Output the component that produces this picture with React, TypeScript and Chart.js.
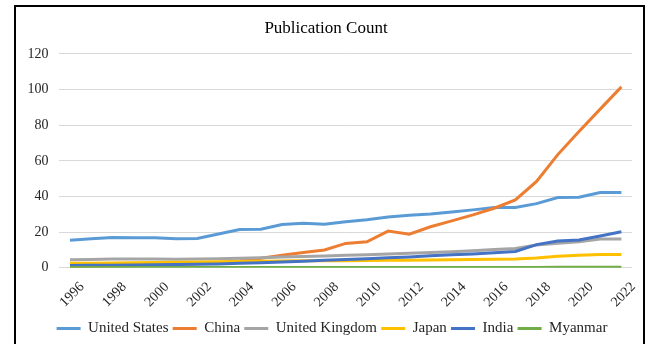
import React, { useEffect, useRef } from "react";
import { Chart, registerables } from "chart.js";

Chart.register(...registerables);

const years = [
  "1996", "1997", "1998", "1999", "2000", "2001", "2002", "2003", "2004",
  "2005", "2006", "2007", "2008", "2009", "2010", "2011", "2012", "2013",
  "2014", "2015", "2016", "2017", "2018", "2019", "2020", "2021", "2022",
];

const unitedStates = [15.5, 16.3, 17.0, 16.8, 16.8, 16.3, 16.5, 19.0, 21.5, 21.6, 24.3, 25.0, 24.5, 25.8, 27.0, 28.5, 29.5, 30.2, 31.3, 32.5, 33.8, 33.8, 36.0, 39.4, 39.6, 42.2, 42.2];
const china = [0.5, 0.8, 1.0, 1.2, 1.5, 2.0, 2.3, 2.8, 3.8, 5.3, 7.1, 8.6, 10.0, 13.7, 14.6, 20.6, 18.8, 23.0, 26.3, 29.7, 33.4, 38.1, 48.5, 63.5, 76.5, 89.0, 101.5];
const unitedKingdom = [4.5, 4.7, 4.9, 5.0, 5.0, 4.8, 4.9, 5.1, 5.4, 5.6, 6.0, 6.3, 6.6, 7.0, 7.3, 7.8, 8.2, 8.6, 9.0, 9.5, 10.2, 10.8, 12.8, 13.8, 14.6, 16.2, 16.2];
const japan = [2.5, 2.6, 2.7, 2.9, 3.0, 3.1, 3.2, 3.4, 3.5, 3.7, 3.8, 3.9, 4.0, 4.0, 4.1, 4.2, 4.3, 4.4, 4.5, 4.6, 4.8, 5.0, 5.5, 6.5, 7.0, 7.4, 7.5];
const india = [1.3, 1.4, 1.5, 1.6, 1.7, 1.9, 2.0, 2.2, 2.5, 2.9, 3.3, 3.7, 4.2, 4.7, 5.1, 5.6, 6.1, 6.7, 7.3, 7.8, 8.5, 9.2, 13.0, 15.0, 15.6, 17.8, 20.2];
const myanmar = [0.1, 0.1, 0.1, 0.1, 0.1, 0.1, 0.1, 0.1, 0.1, 0.1, 0.1, 0.1, 0.1, 0.1, 0.1, 0.1, 0.2, 0.2, 0.2, 0.2, 0.2, 0.2, 0.2, 0.3, 0.3, 0.3, 0.3];

const seriesNames = ["United States", "China", "United Kingdom", "Japan", "India", "Myanmar"];
const seriesColors = ["#5B9BD5", "#ED7D31", "#A5A5A5", "#FFC000", "#4472C4", "#70AD47"];
const seriesValues = [unitedStates, china, unitedKingdom, japan, india, myanmar];

const yTicks = [0, 20, 40, 60, 80, 100, 120];

const FONT = "'Liberation Serif', 'Times New Roman', serif";

const shiftLegend = {
  id: "shiftLegend",
  afterLayout(chart: any) {
    if (chart.legend) {
      chart.legend.left += 6;
      chart.legend.right += 6;
    }
  },
};

export default function App() {
  const ref = useRef<HTMLCanvasElement>(null);

  useEffect(() => {
    const canvas = ref.current;
    if (!canvas) return;
    const chart = new Chart(canvas, {
      type: "line",
      data: {
        labels: years,
        datasets: seriesNames.map((name, i) => ({
          label: name,
          data: seriesValues[i],
          borderColor: seriesColors[i],
          backgroundColor: seriesColors[i],
          borderWidth: 3,
          pointRadius: 0,
          pointHoverRadius: 0,
          tension: 0,
          fill: false,
          order: seriesNames.length - i,
        })),
      },
      plugins: [shiftLegend],
      options: {
        responsive: false,
        animation: false,
        devicePixelRatio: 1,
        layout: { padding: { left: 20, right: 17, top: 10, bottom: -2 } },
        plugins: {
          title: {
            display: true,
            text: "Publication Count",
            color: "#000",
            font: { family: FONT, size: 17, weight: "normal" },
            padding: { top: 8, bottom: 15.5 },
          },
          legend: {
            position: "bottom",
            labels: {
              usePointStyle: true,
              pointStyle: "line",
              pointStyleWidth: 24,
              color: "#262626",
              font: { family: FONT, size: 15 },
              padding: 4.2,
              sort: (a: any, b: any) => a.datasetIndex - b.datasetIndex,
            },
          },
          tooltip: { enabled: false },
        },
        scales: {
          x: {
            offset: true,
            grid: { display: false },
            border: { display: false },
            ticks: {
              autoSkip: false,
              maxRotation: 45,
              minRotation: 45,
              color: "#262626",
              font: { family: FONT, size: 14 },
              padding: 3,
              labelOffset: 12,
              callback: (_v: any, i: number) => (i % 2 === 0 ? years[i] : ""),
            },
            afterFit: (s: any) => {
              s.height = 49;
            },
          },
          y: {
            min: 0,
            max: 120,
            afterBuildTicks: (s: any) => {
              s.ticks = yTicks.map((v) => ({ value: v }));
            },
            grid: { color: "#D9D9D9", lineWidth: 1, drawTicks: false },
            border: { display: false },
            ticks: {
              color: "#262626",
              font: { family: FONT, size: 14 },
              padding: 11,
            },
            afterFit: (s: any) => {
              s.width = 39.4;
            },
          },
        },
      },
    });
    return () => chart.destroy();
  }, []);

  return (
    <div style={{ position: "fixed", left: 0, top: 0, width: 649, height: 344, background: "#fff", overflow: "hidden" }}>
      <div
        style={{
          position: "absolute",
          left: 14,
          top: 5,
          width: 631,
          height: 420,
          border: "2px solid #000",
          boxSizing: "border-box",
        }}
      />
      <canvas
        ref={ref}
        width={649}
        height={344}
        style={{ position: "absolute", left: 0, top: 0, width: 649, height: 344 }}
      />
    </div>
  );
}
